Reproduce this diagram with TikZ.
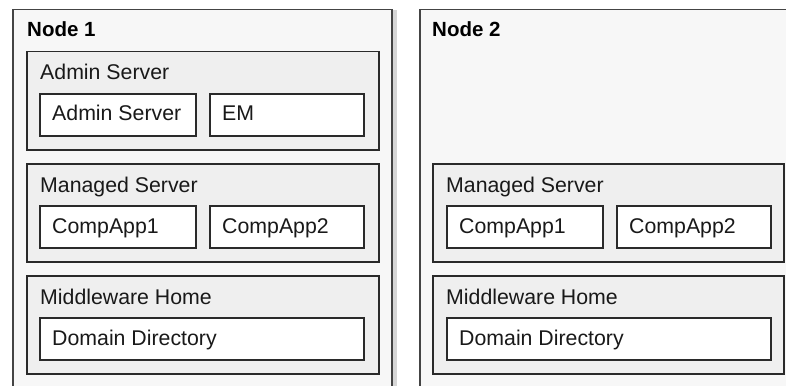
\documentclass[tikz,border=0pt]{standalone}
\usepackage{fontspec}
\setmainfont{Liberation Sans}
\usetikzlibrary{positioning,shadows}

\definecolor{hostfill}{HTML}{F7F7F7}
\definecolor{groupfill}{HTML}{EFEFEF}
\definecolor{hostline}{HTML}{444444}
\definecolor{boxline}{HTML}{2A2A2A}

\begin{document}
\begin{tikzpicture}[x=1pt, y=-1pt,
    host/.style={draw=hostline, line width=1.5pt, fill=hostfill, anchor=north west, minimum width=379pt, minimum height=400pt, inner sep=0pt},
    group/.style={draw=boxline, line width=1.5pt, fill=groupfill, anchor=north west, minimum height=98pt, inner sep=0pt},
    item/.style={draw=boxline, line width=2pt, fill=white, anchor=north west, minimum height=42pt, inner sep=0pt},
    title/.style={font=\fontsize{20.5}{24}\selectfont\bfseries, anchor=base west, inner sep=0pt},
    caption/.style={font=\fontsize{21.3}{25}\selectfont, anchor=base west, inner sep=0pt, text=black!90}
]
\useasboundingbox (0,0) rectangle (786,385);
\clip (0,0) rectangle (786,385);

% Hosts
\node[host, drop shadow={shadow xshift=5pt, shadow yshift=0pt, fill=black!16, opacity=1}] (node1) at (12,9) {};
\node[host] (node2) at (419,9) {};
\node[title] at (27,36.5) {Node 1};
\node[title] at (432,36.5) {Node 2};

% Node 1 groups
\node[group, minimum width=352pt] (admin) at (26,51) {};
\node[group, minimum width=352pt] (managed1) at (26,163) {};
\node[group, minimum width=352pt] (mwhome1) at (26,275) {};
\node[caption] at (40,80) {Admin Server};
\node[caption] at (40,192) {Managed Server};
\node[caption] at (40,304) {Middleware Home};

\node[item, minimum width=156pt] (adminsrv) at (39,93) {};
\node[item, minimum width=154pt] (em) at (209,93) {};
\node[item, minimum width=156pt] (app11) at (39,205) {};
\node[item, minimum width=154pt] (app12) at (209,205) {};
\node[item, minimum width=324pt] (domdir1) at (39,317) {};
\node[caption] at (52,121) {Admin Server};
\node[caption] at (222,121) {EM};
\node[caption] at (52,233) {CompApp1};
\node[caption] at (222,233) {CompApp2};
\node[caption] at (52,345.5) {Domain Directory};

% Node 2 groups
\node[group, minimum width=351pt] (managed2) at (432,163) {};
\node[group, minimum width=351pt] (mwhome2) at (432,275) {};
\node[caption] at (446,192) {Managed Server};
\node[caption] at (446,304) {Middleware Home};

\node[item, minimum width=156pt] (app21) at (446,205) {};
\node[item, minimum width=154pt] (app22) at (616,205) {};
\node[item, minimum width=324pt] (domdir2) at (446,317) {};
\node[caption] at (459,233) {CompApp1};
\node[caption] at (629,233) {CompApp2};
\node[caption] at (459,345.5) {Domain Directory};

\end{tikzpicture}
\end{document}
